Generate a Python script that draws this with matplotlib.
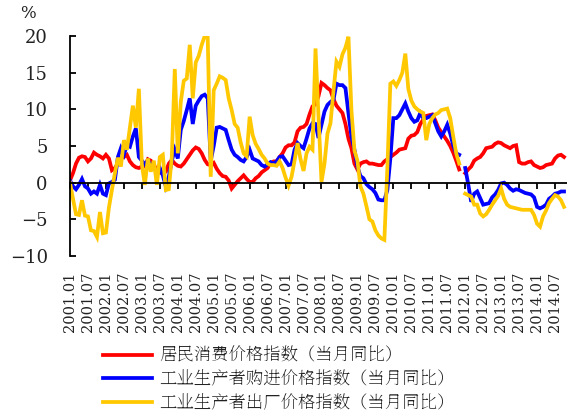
import matplotlib
matplotlib.use('Agg')
import matplotlib.pyplot as plt
from matplotlib import font_manager
from matplotlib.font_manager import FontProperties
import numpy as np

serif_path = font_manager.findfont(FontProperties(family='DejaVu Serif'))
xlab_font = FontProperties(fname=serif_path, size=10.5)
ylab_font = FontProperties(fname=serif_path, size=13)
pct_font = FontProperties(fname=serif_path, size=12)

# monthly year-on-year, 2001.01 - 2014.10 (None = no data)
cpi = [0.3, 1.3, 2.6, 3.4, 3.6, 3.5, 2.9, 3.3, 4.1, 3.8, 3.6, 3.3,
       3.8, 3.3, 1.7, 2.0, 2.6, 3.3, 3.5, 3.8, 2.9, 2.4, 2.1, 2.0,
       2.2, 2.2, 3.2, 3.0, 2.4, 1.8, 1.4, 1.2, 1.5, 2.6, 3.1, 2.6,
       2.3, 2.2, 2.6, 3.2, 3.8, 4.4, 4.8, 4.6, 4.0, 3.1, 2.5, 2.4,
       2.7, 1.9, 1.3, 0.9, 0.8, 0.3, -0.8, -0.3, 0.2, 0.6, 1.0, 0.5,
       0.1, 0.1, 0.6, 0.9, 1.4, 1.7, 2.0, 2.7, 2.9, 2.9, 3.5, 4.0,
       4.8, 5.1, 5.1, 5.5, 7.0, 7.5, 7.6, 8.0, 9.3, 10.4, 10.7, 11.8,
       13.6, 13.3, 12.9, 12.6, 11.4, 10.5, 10.0, 9.5, 8.0, 6.0, 4.7, 2.6,
       1.8, 2.6, 2.8, 2.9, 2.6, 2.6, 2.5, 2.4, 2.4, 2.9, 3.2, 3.5,
       3.8, 4.1, 4.5, 4.6, 4.7, 6.0, 6.4, 6.5, 6.9, 8.0, 8.6, 9.1,
       9.2, 9.3, 8.5, 7.5, 6.9, 6.3, 5.7, 5.0, 4.1, 3.0, 1.8, None,
       1.3, 1.8, 2.2, 3.0, 3.3, 3.5, 4.0, 4.7, 4.8, 4.9, 5.3, 5.5,
       5.4, 5.1, 4.9, 4.7, 5.0, 5.1, 2.8, 2.6, 2.6, 2.8, 2.9, 2.4,
       2.2, 2.0, 2.1, 2.4, 2.5, 2.6, 3.3, 3.7, 3.8, 3.5]

ppirm = [0.3, -0.5, -0.9, -0.3, 0.5, -0.5, -0.8, -1.5, -1.2, -1.5, -0.3, -1.5,
         -1.7, -0.1, 0.1, 0.4, 3.5, 4.7, 3.8, 5.1, 4.9, 6.3, 7.4, 3.5,
         3.0, 2.5, 3.0, 2.5, 2.0, 1.5, 2.0, 1.0, -0.5, 0.8, 3.0, 4.5,
         3.3, 7.2, 8.4, 9.9, 11.5, 8.0, 10.5, 11.2, 11.8, 12.0, 11.5, 3.0,
         5.0, 7.5, 7.6, 7.4, 7.2, 5.8, 4.5, 3.8, 3.5, 3.1, 2.9, 3.5,
         4.5, 3.3, 3.1, 2.9, 2.4, 2.2, 2.5, 2.8, 2.6, 2.9, 3.5, 3.6,
         3.0, 2.4, 2.5, 4.5, 5.4, 5.0, 4.7, 6.0, 7.4, 8.1, 8.0, 6.1,
         7.9, 9.7, 10.6, 11.0, 11.3, 13.5, 13.3, 13.3, 12.9, 9.5, 6.3, 4.5,
         2.2, 0.9, 0.6, -0.2, -0.6, -0.9, -1.4, -2.3, -2.4, -2.4, -1.0, 3.3,
         8.8, 8.8, 9.2, 10.0, 10.8, 9.7, 8.8, 8.3, 8.5, 9.5, 8.8, 8.8,
         9.0, 9.2, 8.1, 7.0, 6.3, 7.0, 7.9, 6.7, 5.1, 4.0, 3.8, None,
         2.0, -0.2, -2.6, -1.5, -1.2, -2.1, -3.0, -2.9, -2.8, -2.0, -1.6, -1.0,
         -0.1, 0.0, -0.3, -0.8, -1.1, -0.9, -1.0, -1.2, -1.4, -1.5, -1.6, -2.0,
         -3.3, -3.5, -3.3, -3.0, -2.2, -1.9, -1.5, -1.4, -1.2, -1.2]

ppi = [0.0, -2.2, -4.3, -4.4, -2.4, -4.5, -4.6, -6.5, -6.6, -7.4, -4.0, -6.9,
       -6.8, -3.4, -1.0, 1.3, 3.4, 2.2, 5.8, 4.5, 7.5, 10.5, 7.5, 12.8,
       2.5, -0.3, 3.3, 1.5, 3.0, -0.3, 3.5, 3.8, -1.0, -0.9, 3.5, 15.5,
       4.0, 11.0, 13.9, 14.2, 18.8, 11.5, 16.4, 17.3, 18.8, 20.0, 19.8, 0.8,
       12.6, 13.5, 14.5, 14.3, 14.0, 11.5, 9.9, 8.0, 7.5, 5.5, 4.0, 3.6,
       9.0, 6.5, 5.3, 4.6, 3.8, 3.3, 2.6, 2.4, 2.4, 2.3, 2.9, 2.0,
       0.7, -0.4, 0.8, 3.0, 5.4, 3.2, 1.6, 4.0, 4.9, 4.5, 18.3, 9.0,
       0.1, 2.6, 6.7, 8.1, 12.5, 16.5, 15.8, 17.5, 18.4, 19.9, 9.9, 4.4,
       3.0, -0.5, -1.5, -3.2, -5.0, -5.3, -6.5, -7.2, -7.6, -7.8, 2.0, 13.5,
       13.8, 13.2, 14.0, 15.0, 17.6, 12.8, 11.2, 10.4, 10.0, 9.7, 9.5, 5.8,
       8.0, 8.8, 9.3, 9.5, 9.9, 10.0, 10.1, 8.8, 6.3, 4.0, 2.6, None,
       -1.5, -1.7, -1.9, -3.0, -3.0, -4.2, -4.6, -4.3, -3.7, -3.0, -2.4, -1.8,
       -0.8, -2.2, -3.0, -3.3, -3.4, -3.5, -3.6, -3.7, -3.7, -3.7, -3.7, -4.4,
       -5.6, -6.0, -4.6, -3.8, -2.8, -2.2, -1.7, -1.9, -2.4, -3.3]

tick_labels = ['%d.%02d' % (y, m) for y in range(2001, 2015) for m in (1, 7)]
names = ['居民消费价格指数（当月同比）',
         '工业生产者购进价格指数（当月同比）',
         '工业生产者出厂价格指数（当月同比）']
colors = ['#FF0000', '#0000FF', '#FFC800']

x = np.arange(len(cpi))

fig = plt.figure(figsize=(5.67, 4.19), dpi=100)
ax = fig.add_axes([70 / 567, 1 - 256 / 419, 497 / 567, 220 / 419])

for s, name, c in zip([cpi, ppirm, ppi], names, colors):
    ax.plot(x, np.array(s, dtype=float), color=c, lw=2.7, label=name,
            solid_joinstyle='miter')

ax.set_xlim(0, 166)
ax.set_ylim(-10, 20)
ax.spines['top'].set_visible(False)
ax.spines['right'].set_visible(False)
ax.spines['bottom'].set_position(('data', 0))
ax.spines['bottom'].set_linewidth(1.3)
ax.spines['left'].set_linewidth(1.3)

ax.set_xticks(np.arange(0, 166, 6))
ax.set_xticklabels(tick_labels, rotation=90, fontproperties=xlab_font,
                   color='#222222')
ax.set_yticks([-10, -5, 0, 5, 10, 15, 20])
ax.set_yticklabels(['\u221210', '\u22125', '0', '5', '10', '15', '20'],
                   fontproperties=ylab_font, color='#222222')
ax.tick_params(axis='x', direction='out', length=4, width=1.3, pad=60)
ax.tick_params(axis='y', direction='in', length=4, width=1.3, pad=16)

fig.text(28 / 567, 1 - 14 / 419, '%', ha='center', va='center',
         fontproperties=pct_font, color='#222222')

leg = fig.legend(loc='upper left', bbox_to_anchor=(103 / 567, 1 - 347 / 419),
                 frameon=False, borderpad=0, borderaxespad=0,
                 prop=FontProperties(family=['Noto Serif SC', 'Noto Sans CJK SC'],
                                     size=12.5),
                 handlelength=2.8, handletextpad=0.45, labelspacing=0.32)
for t in leg.get_texts():
    t.set_color('#222222')

fig.savefig('out.png', dpi=100)
